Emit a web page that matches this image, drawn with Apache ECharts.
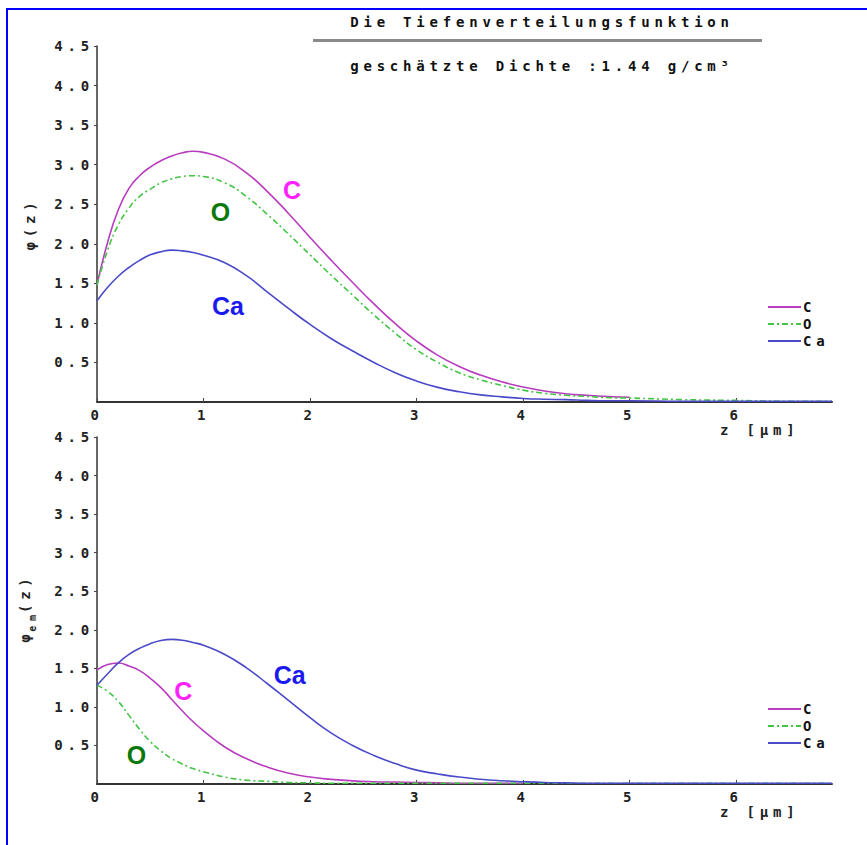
<!DOCTYPE html>
<html>
<head>
<meta charset="utf-8">
<script src="https://cdn.jsdelivr.net/npm/echarts@6/dist/echarts.min.js"></script>
<style>
html,body{margin:0;padding:0;background:#fff;}
#chart{width:867px;height:845px;}
#chart text[style*="DejaVu Sans Mono"]{letter-spacing:4.8px;}
</style>
</head>
<body>
<div id="chart"></div>
<script>
// ---- data ----
var zGrid = [0, 0.1, 0.2, 0.3, 0.4, 0.5, 0.6, 0.7, 0.8, 0.9, 1.0, 1.2, 1.4, 1.6, 1.8, 2.0, 2.2, 2.4, 2.6, 2.8,
             3.0, 3.2, 3.4, 3.6, 3.8, 4.0, 4.2, 4.4, 4.6, 4.8, 5.0, 5.5, 6.0, 6.5, 6.9];

// upper panel: phi(z)
var topC  = [1.48, 2.02, 2.43, 2.70, 2.86, 2.97, 3.05, 3.11, 3.15, 3.17, 3.155, 3.07, 2.90, 2.66, 2.38, 2.08, 1.79, 1.51, 1.24, 0.99,
             0.77, 0.59, 0.45, 0.34, 0.255, 0.19, 0.14, 0.105, 0.085, 0.07, 0.06];
var topO  = [1.48, 1.92, 2.24, 2.45, 2.60, 2.69, 2.77, 2.82, 2.85, 2.86, 2.85, 2.77, 2.60, 2.37, 2.12, 1.86, 1.60, 1.35, 1.10, 0.87,
             0.66, 0.50, 0.37, 0.28, 0.21, 0.15, 0.11, 0.085, 0.07, 0.055, 0.05, 0.03, 0.02, 0.01, 0.01];
var topCa = [1.28, 1.45, 1.59, 1.70, 1.79, 1.86, 1.90, 1.92, 1.91, 1.89, 1.855, 1.76, 1.60, 1.39, 1.18, 0.98, 0.80, 0.645, 0.50, 0.37,
             0.265, 0.185, 0.13, 0.09, 0.065, 0.045, 0.035, 0.03, 0.02, 0.015, 0.015, 0.01, 0.01, 0.01, 0.01];

// lower panel: phi_em(z)
var botC  = [1.48, 1.55, 1.57, 1.53, 1.47, 1.37, 1.25, 1.10, 0.95, 0.81, 0.69, 0.48, 0.33, 0.22, 0.14, 0.09, 0.06, 0.04, 0.03, 0.025,
             0.02, 0.015, 0.01, 0.01, 0.01, 0.01];
var botO  = [1.28, 1.20, 1.07, 0.89, 0.71, 0.55, 0.43, 0.33, 0.26, 0.20, 0.16, 0.09, 0.05, 0.035, 0.02, 0.015, 0.01, 0.01, 0.01, 0.01,
             0.01, 0.01, 0.01, 0.01, 0.01, 0.01, 0.01, 0.01, 0.01, 0.01, 0.01, 0.01, 0.01, 0.01, 0.01];
var botCa = [1.28, 1.43, 1.57, 1.68, 1.76, 1.82, 1.86, 1.875, 1.865, 1.835, 1.80, 1.68, 1.51, 1.30, 1.08, 0.86, 0.66, 0.50, 0.37, 0.265,
             0.18, 0.13, 0.09, 0.062, 0.043, 0.03, 0.02, 0.015, 0.01, 0.01, 0.01, 0.01, 0.01, 0.01, 0.01];

var elements = ['C', 'O', 'Ca'];
var xTicks = [0, 1, 2, 3, 4, 5, 6];
var yTicks = [0.5, 1.0, 1.5, 2.0, 2.5, 3.0, 3.5, 4.0, 4.5];

// annotation label positions (data coordinates)
var annotTop = [[1.83, 2.68], [1.16, 2.40], [1.23, 1.21]];
var annotBot = [[0.81, 1.20], [0.37, 0.38], [1.81, 1.41]];

var titleText = 'Die Tiefenverteilungsfunktion';
var subtitleText = 'geschätzte Dichte :1.44 g/cm³';

// ---- styling ----
var MONO = 'DejaVu Sans Mono';
var lineColors = {C: '#b83cbe', O: '#44c444', Ca: '#4a4ac8'};
var labelColors = {C: '#ff22ff', O: '#0a780a', Ca: '#1a1aee'};
var lineTypes = {C: 'solid', O: [6, 3, 2, 3], Ca: 'solid'};

function pairs(arr) {
  return arr.map(function (v, i) { return [zGrid[i], v]; });
}

function makeSeries(name, arr, gi, annot) {
  return {
    name: name, type: 'line', xAxisIndex: gi, yAxisIndex: gi,
    data: pairs(arr), symbol: 'none', smooth: 0.5,
    lineStyle: {color: lineColors[name], width: 1.6, type: lineTypes[name]},
    itemStyle: {color: lineColors[name]},
    markPoint: {
      silent: true, symbol: 'circle', symbolSize: 1,
      itemStyle: {color: 'rgba(0,0,0,0)'},
      label: {show: true, position: 'inside', formatter: name, color: labelColors[name],
              fontSize: 25, fontWeight: 'bold', fontFamily: 'Liberation Sans'},
      data: [{coord: annot}]
    }
  };
}

function xAxisCfg(gi) {
  return {
    gridIndex: gi, type: 'value', min: 0, max: 6.9, interval: 1,
    axisLine: {show: true, lineStyle: {color: '#333', width: 2}},
    axisTick: {show: true, inside: true, length: 4, customValues: xTicks, lineStyle: {color: '#444'}},
    axisLabel: {customValues: xTicks, margin: 6, color: '#222', fontSize: 14, fontWeight: 'bold', fontFamily: MONO},
    splitLine: {show: false},
    name: 'z [µm]', nameLocation: 'end', nameGap: -112,
    nameTextStyle: {align: 'left', verticalAlign: 'top', padding: [21, 0, 0, 0],
                    color: '#222', fontSize: 14, fontWeight: 'bold', fontFamily: MONO}
  };
}

function yAxisCfg(gi, name, rich) {
  return {
    gridIndex: gi, type: 'value', min: 0, max: 4.5, interval: 0.5,
    axisLine: {show: true, lineStyle: {color: '#333', width: 1.5}},
    axisTick: {show: true, length: 3, customValues: yTicks, lineStyle: {color: '#444'}},
    axisLabel: {customValues: yTicks, margin: 3, color: '#222', fontSize: 14, fontWeight: 'bold', fontFamily: MONO,
                formatter: function (v) { return v.toFixed(1); }},
    splitLine: {show: false},
    name: name, nameLocation: 'middle', nameRotate: 90, nameGap: 60,
    nameTextStyle: {color: '#222', fontSize: 14, fontWeight: 'bold', fontFamily: MONO, rich: rich}
  };
}

var richEm = {
  a: {fontSize: 14, fontWeight: 'bold', fontFamily: MONO, color: '#222', lineHeight: 24, padding: [0, 5, 0, 0]},
  s: {fontSize: 10, fontWeight: 'bold', fontFamily: MONO, color: '#222', lineHeight: 10, verticalAlign: 'bottom', padding: [0, 9, 0, 0]},
  b: {fontSize: 14, fontWeight: 'bold', fontFamily: MONO, color: '#222', lineHeight: 24}
};

var legendText = {color: '#111', fontSize: 14, fontWeight: 'bold', fontFamily: MONO, padding: [0, 0, 0, -3]};

var chart = echarts.init(document.getElementById('chart'), null, {renderer: 'svg'});
chart.setOption({
  animation: false,
  backgroundColor: '#fff',
  textStyle: {fontFamily: MONO},
  title: [
    {text: titleText, left: 537, top: 10, textAlign: 'center',
     textStyle: {fontSize: 14, fontWeight: 'bold', color: '#111', fontFamily: MONO}},
    {text: subtitleText, left: 537, top: 54, textAlign: 'center',
     textStyle: {fontSize: 14, fontWeight: 'bold', color: '#111', fontFamily: MONO}}
  ],
  graphic: [
    {type: 'rect', shape: {x: 6, y: 8, width: 861, height: 2}, style: {fill: '#0000ff'}, silent: true},
    {type: 'rect', shape: {x: 6, y: 8, width: 2, height: 837}, style: {fill: '#0000ff'}, silent: true},
    {type: 'rect', shape: {x: 313, y: 39, width: 449, height: 3}, style: {fill: '#8a8a8a'}, silent: true}
  ],
  legend: [
    {data: elements, orient: 'vertical', left: 762, top: 295, itemWidth: 33, itemHeight: 14, itemGap: 3,
     itemStyle: {opacity: 0}, textStyle: legendText},
    {data: elements, orient: 'vertical', left: 762, top: 697, itemWidth: 33, itemHeight: 14, itemGap: 3,
     itemStyle: {opacity: 0}, textStyle: legendText}
  ],
  grid: [
    {left: 97, top: 46, width: 735, height: 356},
    {left: 97, top: 437, width: 735, height: 347}
  ],
  xAxis: [xAxisCfg(0), xAxisCfg(1)],
  yAxis: [
    yAxisCfg(0, 'φ(z)'),
    yAxisCfg(1, '{a|φ}{s|em}{b|(z)}', richEm)
  ],
  series: [
    makeSeries('C', topC, 0, annotTop[0]),
    makeSeries('O', topO, 0, annotTop[1]),
    makeSeries('Ca', topCa, 0, annotTop[2]),
    makeSeries('C', botC, 1, annotBot[0]),
    makeSeries('O', botO, 1, annotBot[1]),
    makeSeries('Ca', botCa, 1, annotBot[2])
  ]
});
</script>
</body>
</html>
